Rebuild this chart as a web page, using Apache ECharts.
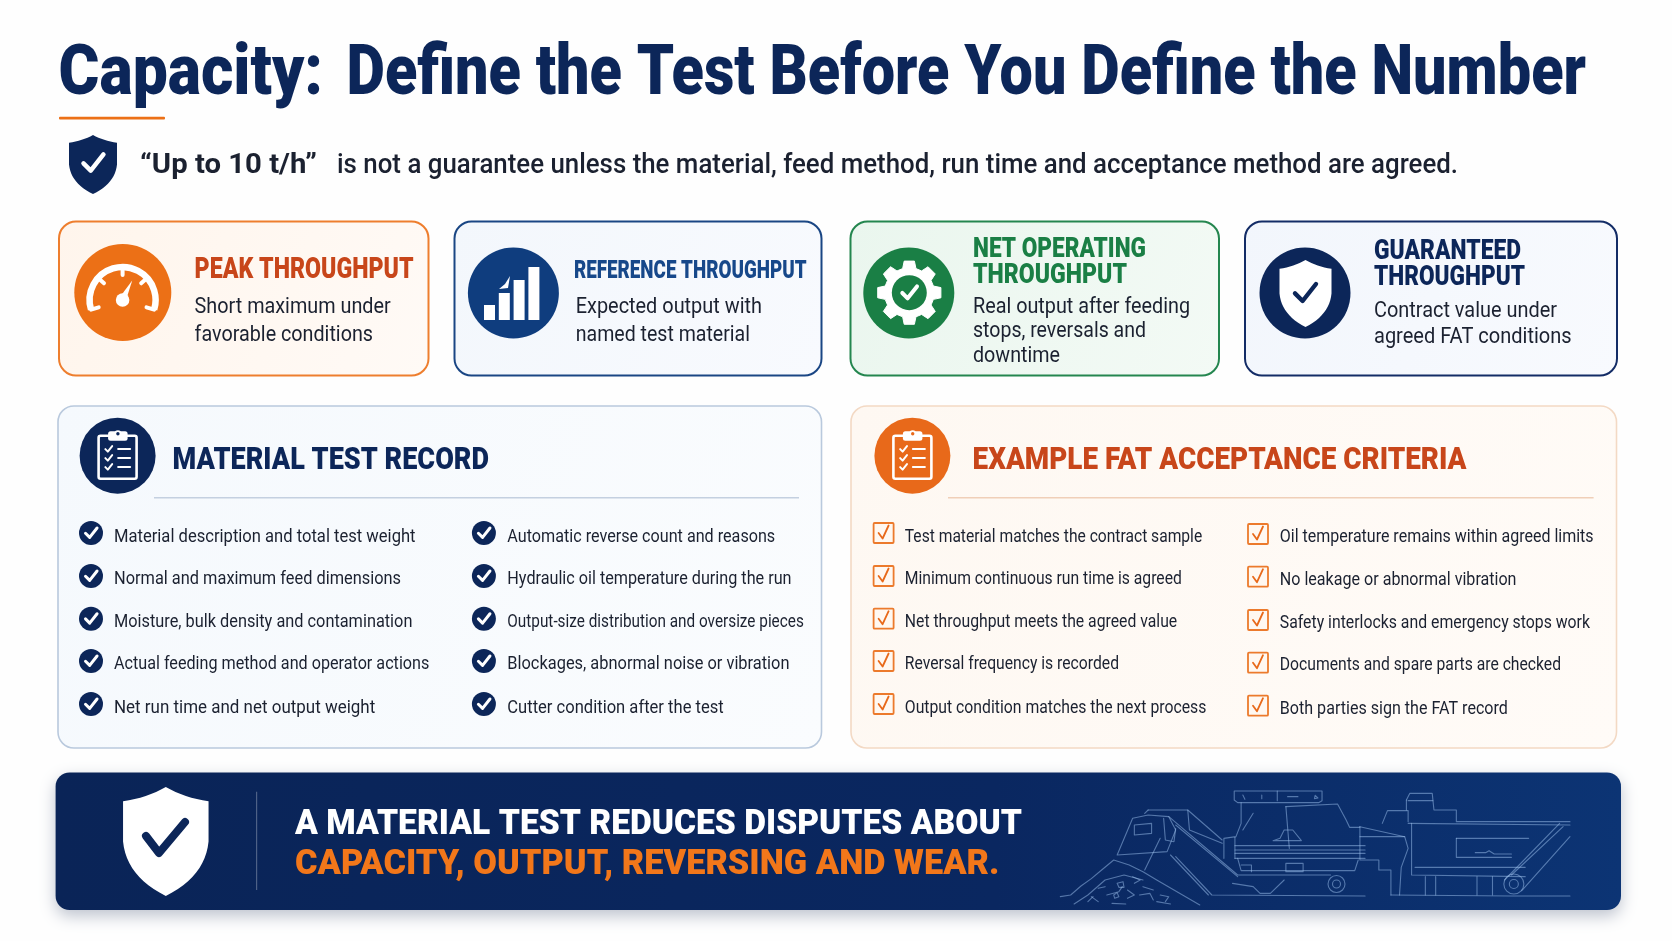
<!doctype html>
<html>
<head>
<meta charset="utf-8">
<title>Capacity</title>
<script src="https://cdn.jsdelivr.net/npm/echarts@6/dist/echarts.min.js"></script>
<style>
  html, body { margin: 0; background: #fff; }
  #main { width: 1672px; height: 941px; }
</style>
</head>
<body>
<div id="main"></div>
<script>
// text content
var titleHead = 'Capacity:';
var titleRest = 'Define the Test Before You Define the Number';
var leadBold = '\u201cUp to 10 t/h\u201d';
var leadRest = 'is not a guarantee unless the material, feed method, run time and acceptance method are agreed.';
var peakTitle = ['PEAK THROUGHPUT'];
var peakBody = ['Short maximum under', 'favorable conditions'];
var refTitle = ['REFERENCE THROUGHPUT'];
var refBody = ['Expected output with', 'named test material'];
var netTitle = ['NET OPERATING', 'THROUGHPUT'];
var netBody = ['Real output after feeding', 'stops, reversals and', 'downtime'];
var guarTitle = ['GUARANTEED', 'THROUGHPUT'];
var guarBody = ['Contract value under', 'agreed FAT conditions'];
var recordTitle = 'MATERIAL TEST RECORD';
var recordLeft = ['Material description and total test weight', 'Normal and maximum feed dimensions', 'Moisture, bulk density and contamination', 'Actual feeding method and operator actions', 'Net run time and net output weight'];
var recordRight = ['Automatic reverse count and reasons', 'Hydraulic oil temperature during the run', 'Output-size distribution and oversize pieces', 'Blockages, abnormal noise or vibration', 'Cutter condition after the test'];
var criteriaTitle = 'EXAMPLE FAT ACCEPTANCE CRITERIA';
var criteriaLeft = ['Test material matches the contract sample', 'Minimum continuous run time is agreed', 'Net throughput meets the agreed value', 'Reversal frequency is recorded', 'Output condition matches the next process'];
var criteriaRight = ['Oil temperature remains within agreed limits', 'No leakage or abnormal vibration', 'Safety interlocks and emergency stops work', 'Documents and spare parts are checked', 'Both parties sign the FAT record'];
var bannerWhite = 'A MATERIAL TEST REDUCES DISPUTES ABOUT';
var bannerOrange = 'CAPACITY, OUTPUT, REVERSING AND WEAR.';

var NAVY = '#0c2659', BLUE = '#0f3d7e', ORANGE = '#ec7016', RUST = '#c8461a', GREEN = '#1a7f45', INK = '#1b2130';
var FAMILY = 'Roboto, sans-serif';

var els = [];
var ctx = document.createElement('canvas').getContext('2d');

// text squeezed so it runs from x to endX, sitting on the baseline
function label(str, x, base, weight, size, fill, endX) {
  var font = weight + ' ' + size + 'px ' + FAMILY;
  ctx.font = font;
  ctx.textBaseline = 'middle';
  var drop = ctx.measureText('H').actualBoundingBoxDescent;
  var w = ctx.measureText(str).width;
  els.push({
    type: 'text', x: x, y: base - drop, scaleX: (endX - x) / w, z: 5,
    style: { text: str, font: font, fill: fill, align: 'left', verticalAlign: 'middle' }
  });
}
function box(x1, y1, x2, y2, r, fill, stroke, lw, extra) {
  var style = { fill: fill, stroke: stroke, lineWidth: lw || 0 };
  for (var k in extra) style[k] = extra[k];
  els.push({ type: 'rect', z: 1, shape: { x: x1, y: y1, width: x2 - x1, height: y2 - y1, r: r }, style: style });
}
function disc(cx, cy, r, fill, z) {
  els.push({ type: 'circle', z: z || 2, shape: { cx: cx, cy: cy, r: r }, style: { fill: fill } });
}
function stroke(points, color, lw, z) {
  els.push({ type: 'polyline', z: z || 3, shape: { points: points }, style: { stroke: color, lineWidth: lw, fill: null, lineCap: 'round', lineJoin: 'round' } });
}
function tick(cx, cy, s, color, lw, z) {
  stroke([[cx - 0.5 * s, cy + 0.02 * s], [cx - 0.12 * s, cy + 0.4 * s], [cx + 0.55 * s, cy - 0.45 * s]], color, lw, z);
}
function quad(p0, c, p1, n, out) {
  for (var i = 1; i <= n; i++) {
    var t = i / n, u = 1 - t;
    out.push([u * u * p0[0] + 2 * u * t * c[0] + t * t * p1[0], u * u * p0[1] + 2 * u * t * c[1] + t * t * p1[1]]);
  }
}
function shield(cx, top, w, h, fill) {
  var half = [[0, 0]];
  quad([0, 0], [0.22 * w, 0.1 * h], [0.5 * w, 0.13 * h], 8, half);
  half.push([0.5 * w, 0.5 * h]);
  quad([0.5 * w, 0.5 * h], [0.46 * w, 0.82 * h], [0, h], 12, half);
  var pts = [];
  half.forEach(function (p) { pts.push([cx + p[0], top + p[1]]); });
  for (var i = half.length - 2; i > 0; i--) pts.push([cx - half[i][0], top + half[i][1]]);
  els.push({ type: 'polygon', z: 3, shape: { points: pts }, style: { fill: fill } });
}
function clipboard(cx, cy, color, ground) {
  box(cx - 19, cy - 20, cx + 19, cy + 23, 2, 'transparent', color, 2.6);
  els[els.length - 1].z = 3;
  box(cx - 9.5, cy - 24.5, cx + 10, cy - 15, 2.5, color, color, 0);
  els[els.length - 1].z = 3;
  disc(cx + 0.3, cy - 22, 3.4, color, 3);
  disc(cx + 0.3, cy - 22, 1.7, ground, 4);
  [-6.7, 2.3, 11.3].forEach(function (dy) {
    tick(cx - 9, cy + dy, 6.5, color, 2, 4);
    stroke([[cx + 0.5, cy + dy], [cx + 12.5, cy + dy]], color, 2, 4);
  });
}

// header
label(titleHead, 58.6, 93.5, 900, 71, NAVY, 323);
label(titleRest, 346.5, 93.5, 900, 71, NAVY, 1586);
box(59, 116.8, 165, 119.4, 1, ORANGE);
shield(93, 135, 48, 59, NAVY);
tick(93, 163, 19, '#fff', 4.5, 4);
label(leadBold, 140, 173, 700, 28, INK, 317);
label(leadRest, 337, 173, 500, 28, INK, 1458);

// four cards
function cardFill(a, b) {
  return { type: 'linear', x: 0, y: 0, x2: 1, y2: 1, colorStops: [{ offset: 0, color: a }, { offset: 1, color: b }] };
}
box(59, 221.5, 428.5, 375.5, 17, cardFill('#fff5ec', '#fffaf6'), '#ee7e2e', 2);
box(454.5, 221.5, 821.5, 375.5, 17, cardFill('#f3f7fc', '#f8fafe'), '#1a4684', 2);
box(850.5, 221.5, 1219, 375.5, 17, cardFill('#eaf6ee', '#f3faf5'), '#24864f', 2);
box(1245, 221.5, 1617, 375.5, 17, cardFill('#f2f6fc', '#f8fafe'), '#132c66', 2);

// gauge icon
var gx = 122.6, gy = 300;
disc(122.8, 292.5, 48.5, ORANGE);
els.push({ type: 'arc', z: 3, shape: { cx: gx, cy: gy, r: 33, startAngle: 163 * Math.PI / 180, endAngle: 377 * Math.PI / 180, clockwise: true }, style: { stroke: '#fff', lineWidth: 6.5, fill: null } });
[270, 222, 318, 163, 377].forEach(function (deg) {
  var a = deg * Math.PI / 180;
  stroke([[gx + 33 * Math.cos(a), gy + 33 * Math.sin(a)], [gx + 25 * Math.cos(a), gy + 25 * Math.sin(a)]], '#fff', 4);
});
disc(gx, gy, 6.8, '#fff', 4);
els.push({ type: 'polygon', z: 4, shape: { points: [[gx - 3.4, gy - 2], [gx + 3.6, gy - 0.6], [gx + 9.6, gy - 19.5]] }, style: { fill: '#fff' } });

// bars icon
disc(513.4, 293, 45.5, BLUE);
[[484, 305], [498.8, 293], [513.6, 280], [528.4, 267]].forEach(function (b) {
  box(b[0], b[1], b[0] + 11, 320, 0, '#fff');
  els[els.length - 1].z = 3;
});
els.push({ type: 'polygon', z: 3, shape: { points: [[499, 289], [505, 284], [510, 276], [508, 288]] }, style: { fill: '#fff' } });

// gear icon
disc(908.8, 293, 45.5, GREEN);
var gearPts = [], teeth = 8, cx3 = 909.3, cy3 = 292.7;
for (var i = 0; i < teeth; i++) {
  var c = i * 2 * Math.PI / teeth;
  [[-0.27, 25], [-0.16, 32], [0.16, 32], [0.27, 25]].forEach(function (p) {
    gearPts.push([cx3 + p[1] * Math.cos(c + p[0]), cy3 + p[1] * Math.sin(c + p[0])]);
  });
}
els.push({ type: 'polygon', z: 3, shape: { points: gearPts }, style: { fill: '#fff', stroke: '#fff', lineWidth: 1, lineJoin: 'round' } });
disc(cx3, cy3, 17.5, GREEN, 4);
tick(cx3, cy3, 14, '#fff', 4, 5);

// shield icon
disc(1305, 293, 45.5, NAVY);
shield(1305.5, 260, 52, 67, '#fff');
tick(1305, 293, 20, NAVY, 4.4, 4);

// card text
label(peakTitle[0], 194.6, 278, 900, 29, RUST, 413.6);
label(peakBody[0], 194.6, 313, 400, 22, INK, 390.7);
label(peakBody[1], 194.6, 341, 400, 22, INK, 373);
label(refTitle[0], 574, 278, 900, 26.5, '#17488a', 806.5);
label(refBody[0], 575.7, 313, 400, 22, INK, 762);
label(refBody[1], 575.7, 341, 400, 22, INK, 750);
label(netTitle[0], 973, 256.7, 900, 27, GREEN, 1146);
label(netTitle[1], 973, 282.7, 900, 27, GREEN, 1127);
label(netBody[0], 973, 312.7, 400, 22, INK, 1190);
label(netBody[1], 973, 337, 400, 22, INK, 1146);
label(netBody[2], 973, 362, 400, 22, INK, 1060);
label(guarTitle[0], 1374, 259, 900, 27, NAVY, 1521);
label(guarTitle[1], 1374, 285, 900, 27, NAVY, 1525);
label(guarBody[0], 1374, 316.7, 400, 22, INK, 1557);
label(guarBody[1], 1374, 343, 400, 22, INK, 1571.6);

// lower panels
box(58, 406, 821.5, 748, 16, cardFill('#f5f9fd', '#fafcfe'), '#b9c9dd', 1.6);
box(851, 406, 1616.5, 748, 16, cardFill('#fef8f2', '#fffbf7'), '#f3d9c4', 1.6);

// record panel
disc(117.6, 455.7, 38, NAVY);
clipboard(117.6, 455.7, '#fff', NAVY);
label(recordTitle, 172.6, 469, 900, 32, NAVY, 489);
box(154, 497, 799, 498.6, 0, '#c4d0e0');
var rowY = [533, 576, 618.7, 661, 704];
var rowBase = [541.7, 584, 627, 669, 713];
var recordLeftEnd = [415.5, 401, 412.4, 429.3, 375.2];
var recordRightEnd = [775.2, 791.5, 803.8, 789.5, 723.7];
recordLeft.forEach(function (t, i) {
  disc(91, rowY[i], 12, NAVY);
  tick(91, rowY[i], 11, '#fff', 3, 4);
  label(t, 114, rowBase[i], 400, 19, INK, recordLeftEnd[i]);
});
recordRight.forEach(function (t, i) {
  disc(483.9, rowY[i], 12, NAVY);
  tick(483.9, rowY[i], 11, '#fff', 3, 4);
  label(t, 507.3, rowBase[i], 400, 19, INK, recordRightEnd[i]);
});

// criteria panel
disc(912.4, 455.7, 38, '#e8691a');
clipboard(912.4, 455.7, '#fff', '#e8691a');
label(criteriaTitle, 972.6, 469, 900, 32, RUST, 1466.5);
box(948, 497, 1593.6, 498.6, 0, '#f0cfb8');
var critY = [534, 576.7, 620, 662.7, 705.7];
var critBase = [542.3, 585, 628, 670.3, 713.7];
var criteriaLeftEnd = [1202.2, 1181.8, 1177.2, 1119, 1206.3];
var criteriaRightEnd = [1593.6, 1516.5, 1590, 1561, 1507.9];
function tickBox(cx, cy) {
  box(cx - 10, cy - 10, cx + 10, cy + 10, 1, '#fff8f1', '#ec7a2c', 1.8);
  els[els.length - 1].z = 3;
  stroke([[cx - 5, cy], [cx - 1, cy + 5.5], [cx + 5, cy - 7.5]], '#e8691a', 1.8, 4);
}
criteriaLeft.forEach(function (t, i) {
  tickBox(883.6, rowY[i]);
  label(t, 904.8, rowBase[i], 400, 19, INK, criteriaLeftEnd[i]);
});
criteriaRight.forEach(function (t, i) {
  tickBox(1258, critY[i]);
  label(t, 1279.8, critBase[i], 400, 19, INK, criteriaRightEnd[i]);
});

// banner
box(55.6, 772.5, 1621, 910, 14, {
  type: 'linear', x: 0, y: 0, x2: 1, y2: 0,
  colorStops: [{ offset: 0, color: '#0a2457' }, { offset: 0.6, color: '#0a2760' }, { offset: 1, color: '#0c3474' }]
}, null, 0, { shadowBlur: 16, shadowOffsetY: 6, shadowColor: 'rgba(20,40,80,0.28)' });
shield(165.8, 787, 85.5, 109, '#fff');
stroke([[146, 836], [159, 853], [185, 822]], NAVY, 8, 4);
box(256, 791.7, 257.2, 890, 0, 'rgba(255,255,255,0.28)');
els[els.length - 1].z = 2;
label(bannerWhite, 295, 834, 900, 35, '#fff', 1022);
label(bannerOrange, 295, 874, 900, 35, '#f2771a', 999.4);

// machine line art, traced in crop pixels of the banner's right part
var machineLines = [
  [[535, 33], [790, 33], [790, 62], [780, 68], [545, 68], [535, 60], [535, 33]],
  [[660, 33], [660, 62]], [[560, 45], [566, 58]], [[615, 45], [615, 56]], [[690, 50], [720, 50]], [[770, 46], [778, 54], [768, 56], [770, 46]],
  [[555, 68], [555, 130], [540, 170], [505, 175], [505, 235]],
  [[590, 100], [560, 150]],
  [[685, 80], [835, 72], [860, 120], [870, 142], [900, 142]],
  [[685, 80], [695, 205]],
  [[537, 172], [537, 235]], [[537, 197], [915, 197]], [[537, 210], [915, 210]], [[537, 220], [915, 220]], [[537, 235], [915, 235]],
  [[545, 235], [555, 272], [885, 272], [895, 240]],
  [[685, 250], [735, 250], [735, 275], [685, 275], [685, 250]],
  [[555, 255], [585, 255], [585, 275]],
  [[345, 110], [545, 285], [815, 285]],
  [[365, 135], [545, 290]],
  [[365, 230], [470, 345], [915, 348]],
  [[350, 225], [460, 345]],
  [[195, 225], [240, 115], [285, 105], [345, 110], [365, 150], [340, 215], [195, 225]],
  [[245, 135], [295, 130], [295, 160], [245, 165], [245, 135]],
  [[285, 90], [400, 90], [500, 180]],
  [[275, 100], [285, 90]],
  [[400, 90], [405, 150], [500, 190]],
  [[330, 115], [335, 180], [360, 185], [365, 145]],
  [[648, 182], [668, 175], [680, 150], [705, 150], [730, 182], [648, 182]],
  [[320, 175], [275, 270]],
  [[530, 310], [590, 320], [610, 340], [640, 340], [680, 300]],
  [[30, 350], [60, 345], [90, 318], [120, 296], [150, 270], [185, 240], [230, 255], [270, 275], [310, 300], [360, 330], [435, 375]],
  [[70, 372], [110, 345], [160, 300], [215, 285], [270, 300]],
  [[120, 350], [140, 365]], [[165, 345], [200, 335], [210, 320]], [[225, 330], [245, 345], [225, 355]], [[260, 345], [290, 340], [300, 360]], [[180, 370], [220, 372]], [[310, 365], [350, 372]],
  [[195, 310], [212, 305], [215, 322], [200, 322], [195, 310]], [[240, 290], [262, 300], [245, 310]], [[185, 345], [195, 338], [200, 350], [188, 355], [185, 345]],
  [[140, 325], [160, 320]], [[270, 320], [300, 330]], [[320, 345], [345, 350], [335, 365]], [[110, 365], [125, 350]],
  [[900, 140], [1030, 170], [1040, 205], [1020, 262], [1015, 345]],
  [[900, 170], [1030, 170]], [[900, 140], [900, 240], [955, 240], [955, 270], [990, 270], [990, 345]],
  [[965, 130], [980, 92], [1040, 92], [1040, 125]],
  [[1035, 60], [1045, 40], [1110, 40], [1115, 90], [1180, 90], [1180, 125], [1510, 125]],
  [[1035, 60], [1035, 90]], [[1040, 130], [1510, 135]], [[1040, 62], [1112, 62]],
  [[1050, 130], [1050, 285], [1380, 290]], [[1060, 262], [1380, 262]],
  [[1180, 175], [1390, 175]], [[1180, 175], [1180, 232], [1340, 232]],
  [[1235, 218], [1265, 218], [1275, 212], [1290, 222], [1340, 222]],
  [[1320, 300], [1480, 130]], [[1370, 332], [1510, 170]], [[1340, 285], [1490, 140]],
  [[1090, 290], [1090, 345]], [[1120, 290], [1120, 345]], [[1240, 290], [1240, 345]], [[1285, 290], [1285, 345]], [[990, 345], [1340, 348], [1510, 348]]
];
function machineX(zx) { return 1050 + zx / 2.904; }
function machineY(zy) { return 780 + zy / 3; }
machineLines.forEach(function (line) {
  stroke(line.map(function (p) { return [machineX(p[0]), machineY(p[1])]; }), 'rgba(160,195,240,0.5)', 1.1, 2);
});
[[832, 312, 8.5], [832, 312, 4], [1347, 312, 10], [1347, 312, 4.5]].forEach(function (c) {
  els.push({ type: 'circle', z: 2, shape: { cx: machineX(c[0]), cy: machineY(c[1]), r: c[2] }, style: { fill: null, stroke: 'rgba(160,195,240,0.5)', lineWidth: 1.1 } });
});

var chart = echarts.init(document.getElementById('main'));
chart.setOption({
  animation: false,
  backgroundColor: '#fefefe',
  graphic: { elements: els }
});
</script>
</body>
</html>
